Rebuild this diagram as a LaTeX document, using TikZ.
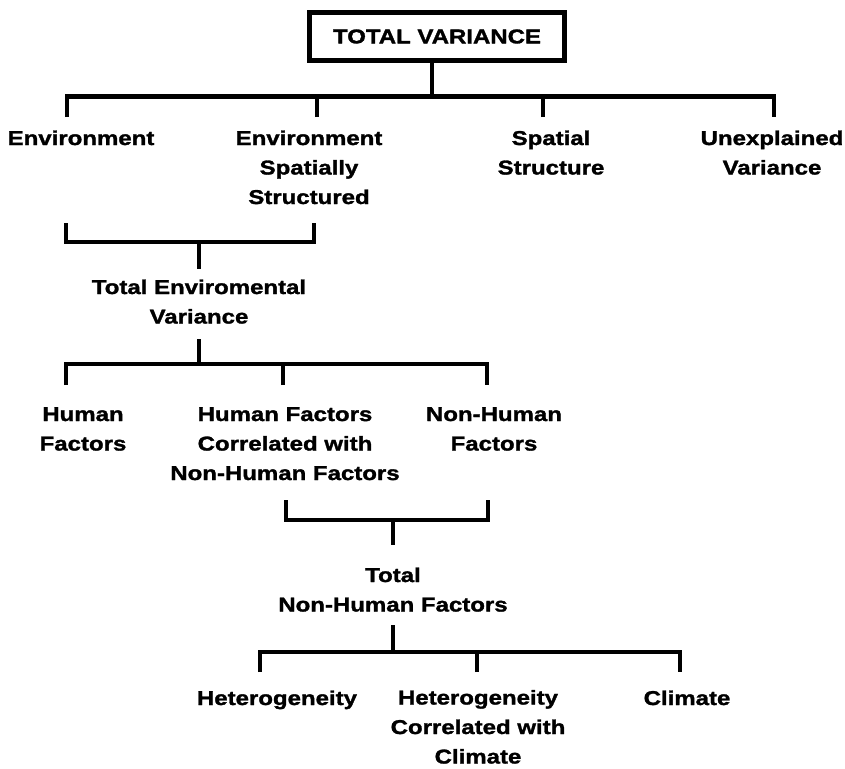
\documentclass[tikz,border=0pt]{standalone}
\usepackage{fontspec}
\setmainfont{Liberation Sans}[FakeStretch=1.2, BoldFeatures={FakeBold=1.5}]
\usetikzlibrary{positioning}

% base anchor of a multi-line label = baseline of its last line
\tikzset{
  lbl/.style={align=center, inner sep=0pt, anchor=base,
    font=\fontsize{20}{29.5}\selectfont\bfseries},
  bar/.style={line width=4.5pt},
}

\begin{document}
\begin{tikzpicture}[x=1pt,y=-1pt]
\useasboundingbox (0,0) rectangle (845,768);

\node[lbl, draw, line width=5pt, anchor=center, minimum width=255pt, minimum height=48pt] (total) at (437,36.5) {TOTAL VARIANCE};

\node[lbl] (env)   at (81,145)    {Environment};
\node[lbl] (envss) at (309,204)   {Environment\\Spatially\\Structured};
\node[lbl] (spat)  at (551,174.5) {Spatial\\Structure};
\node[lbl] (unexp) at (772,174.5) {Unexplained\\Variance};
\node[lbl] (tev)   at (199,323.5) {Total Enviromental\\Variance};
\node[lbl] (hum)   at (83,450.5)  {Human\\Factors};
\node[lbl] (hcorr) at (285,480)   {Human Factors\\Correlated with\\Non-Human Factors};
\node[lbl] (nhum)  at (494,450.5) {Non-Human\\Factors};
\node[lbl] (tnh)   at (393,611.5) {Total\\Non-Human Factors};
\node[lbl] (het)   at (277,705)   {Heterogeneity};
\node[lbl] (hcl)   at (478,763.5) {Heterogeneity\\Correlated with\\Climate};
\node[lbl] (clim)  at (687,705)   {Climate};

% junctions on the bars
\coordinate (j1) at (432,96.5);
\coordinate (j2) at (199,242);
\coordinate (j3) at (199,364);
\coordinate (j4) at (393,520);
\coordinate (j5) at (393,652);

% free ends of the drops
\foreach \n/\x/\y in {env-up/67/117, envss-up/317/117, spat-up/543/117, unexp-up/774/117,
    env-dn/66/223, envss-dn/314/223, tev-up/199/269, tev-dn/199/339,
    hum-up/66/385, hcorr-up/283/385, nhum-up/487/385,
    hcorr-dn/286/500, nhum-dn/488/500, tnh-up/393/545, tnh-dn/393/625,
    het-up/260/672, hcl-up/477/672, clim-up/680/672}
  \coordinate (\n) at (\x,\y);

\draw[bar] (total.south -| j1) -- (j1);
\draw[bar] (env-up) |- (j1) -| (unexp-up);
\draw[bar] (envss-up) -- (envss-up |- j1);
\draw[bar] (spat-up) -- (spat-up |- j1);

\draw[bar] (env-dn) |- (j2) -| (envss-dn);
\draw[bar] (j2) -- (tev-up);

\draw[bar] (tev-dn) -- (j3);
\draw[bar] (hum-up) |- (j3) -| (nhum-up);
\draw[bar] (hcorr-up) -- (hcorr-up |- j3);

\draw[bar] (hcorr-dn) |- (j4) -| (nhum-dn);
\draw[bar] (j4) -- (tnh-up);

\draw[bar] (tnh-dn) -- (j5);
\draw[bar] (het-up) |- (j5) -| (clim-up);
\draw[bar] (hcl-up) -- (hcl-up |- j5);
\end{tikzpicture}
\end{document}
